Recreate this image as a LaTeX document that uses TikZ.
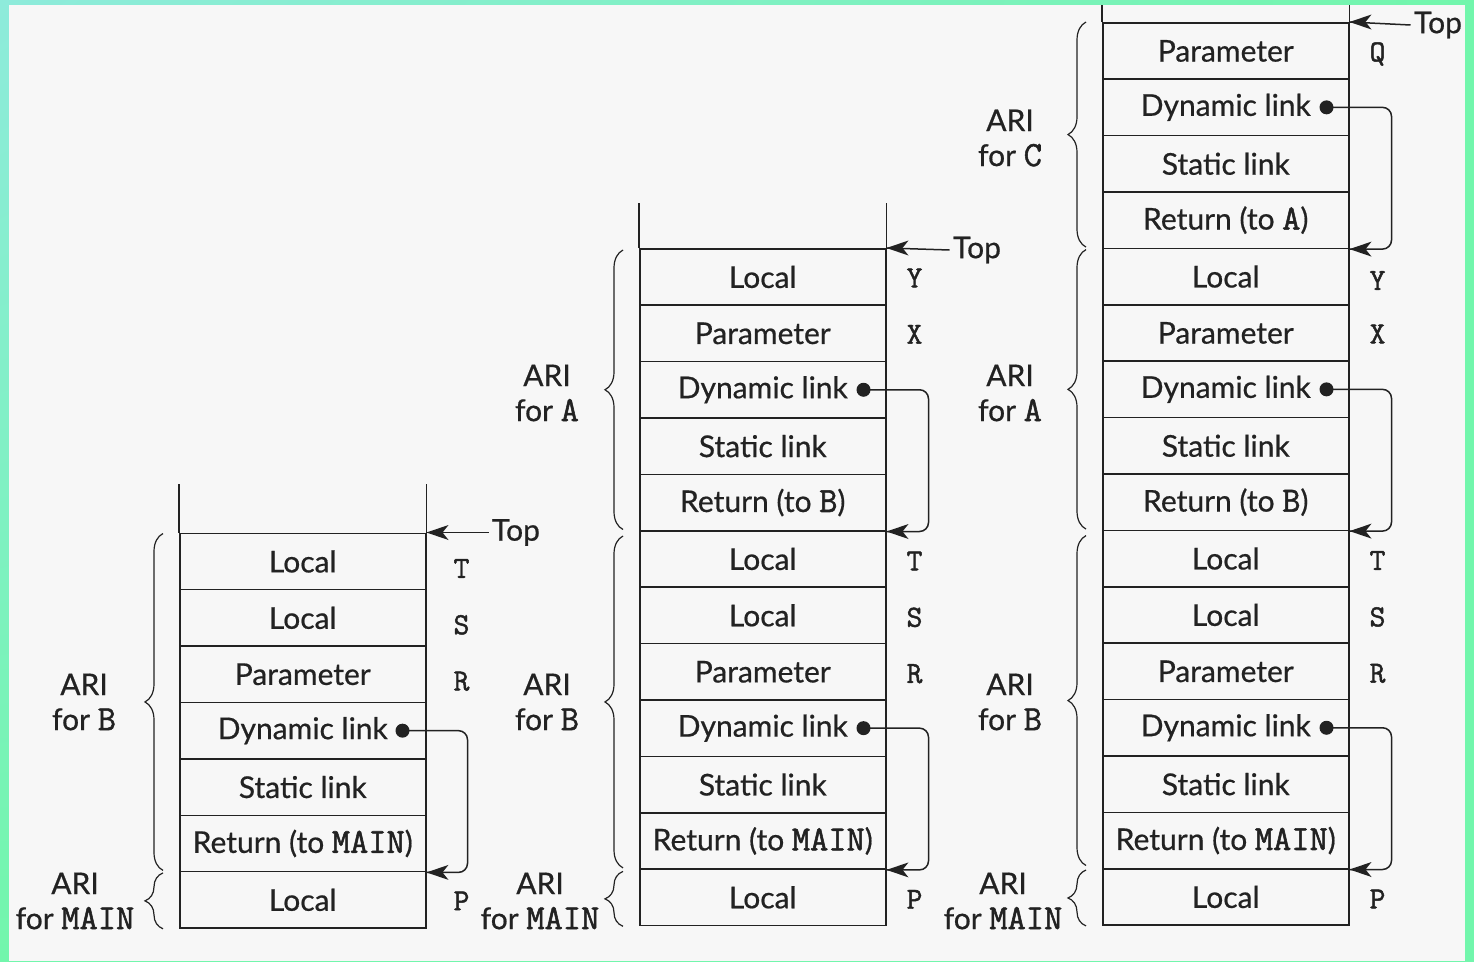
\documentclass[tikz,border=0pt]{standalone}
\usepackage{fontspec}
\setmainfont{Lato}[FakeBold=0.6]
\setmonofont{Latin Modern Mono}[Scale=1.18, FakeBold=1.5]
\usetikzlibrary{decorations.pathreplacing,calc,shadings}
\definecolor{ink}{HTML}{222222}
\definecolor{paper}{HTML}{F7F7F7}
\definecolor{frameA}{HTML}{8EEBDB}
\definecolor{frameB}{HTML}{72F6AC}
% filled dart pointing left, its tip on the given point
\newcommand\leftdart[1]{\fill[ink] (#1) -- ++(22,-7.5) -- ++(-6,7.5) -- ++(6,7.5) -- cycle;}

\begin{document}
\begin{tikzpicture}[x=1pt,y=-1pt,
  txt/.style={font=\fontsize{30}{35}\selectfont, text=ink},
  cell/.style={txt, draw=ink, line width=1.5pt, minimum width=246pt,
    minimum height=56.4pt, inner sep=0pt, anchor=north west},
  side/.style={font=\fontsize{26}{30}\ttfamily, text=ink},
  ari/.style={txt, align=center},
  rail/.style={draw=ink, line width=1.5pt},
  conn/.style={rail, rounded corners=9pt},
  curly/.style={draw=ink, line width=1.2pt, decorate,
    decoration={brace, amplitude=18pt}},
  dot/.style={fill=ink},
]
\useasboundingbox (0,0) rectangle (1474,961);
% frame and paper
\shade[upper left=frameA, upper right=frameB, lower left=frameB, lower right=frameB]
  (0,0) rectangle (1474,961);
\fill[paper] (9,5) rectangle (1465,961);

% ---------------- stack while B runs ----------------
\foreach \t [count=\i] in {Local,Local,Parameter,Dynamic link,Static link,
    Return (to \texttt{MAIN}),Local}
  \node[cell] (a\i) at (179,{532.5+(\i-1)*56.4}) {\t};
\draw[rail] (a1.north west) -- ++(0,-49);
\draw[rail] (a1.north east) -- ++(0,-49);
\node[txt, anchor=west] (atop) at ($(a1.north east)+(62,0)$) {Top};
\draw[rail] (atop.west) -- (a1.north east);
\leftdart{a1.north east}
\node[side] at ($(a1.east)+(35,7)$) {T};
\node[side] at ($(a2.east)+(35,7)$) {S};
\node[side] at ($(a3.east)+(35,7)$) {R};
\node[side] at ($(a7.east)+(35,1)$) {P};
\coordinate (ad) at ($(a4.east)+(-24,0)$);
\fill[dot] (ad) circle (7pt);
\draw[conn] (ad) -| ($(a6.south east)+(41,0)$) -- (a6.south east);
\leftdart{a6.south east}
\draw[curly] ($(a6.south west)+(-16,-2)$) -- ($(a1.north west)+(-16,1)$);
\draw[curly] ($(a7.south west)+(-16,0)$) -- ($(a7.north west)+(-16,2)$);
\node[ari] at (84,702) {ARI\\for \texttt{B}};
\node[ari] at (75,901) {ARI\\for \texttt{MAIN}};

% ---------------- stack while A runs ----------------
\foreach \t [count=\i] in {Local,Parameter,Dynamic link,Static link,
    Return (to \texttt{B}),Local,Local,Parameter,Dynamic link,Static link,
    Return (to \texttt{MAIN}),Local}
  \node[cell] (b\i) at (639,{248+(\i-1)*56.4}) {\t};
\draw[rail] (b1.north west) -- ++(0,-45);
\draw[rail] (b1.north east) -- ++(0,-45);
\node[txt, anchor=west] (btop) at ($(b1.north east)+(63,2)$) {Top};
\draw[rail] (btop.west) -- (b1.north east);
\leftdart{b1.north east}
\node[side] at ($(b1.east)+(28,1)$) {Y};
\node[side] at ($(b2.east)+(28,1)$) {X};
\node[side] at ($(b6.east)+(28,2)$) {T};
\node[side] at ($(b7.east)+(28,2)$) {S};
\node[side] at ($(b8.east)+(28,2)$) {R};
\node[side] at ($(b12.east)+(28,2)$) {P};
\coordinate (bd1) at ($(b3.east)+(-23,0)$);
\fill[dot] (bd1) circle (7pt);
\draw[conn] (bd1) -| ($(b5.south east)+(42,0)$) -- (b5.south east);
\leftdart{b5.south east}
\coordinate (bd2) at ($(b9.east)+(-23,0)$);
\fill[dot] (bd2) circle (7pt);
\draw[conn] (bd2) -| ($(b11.south east)+(42,0)$) -- (b11.south east);
\leftdart{b11.south east}
\draw[curly] ($(b5.south west)+(-16,-2)$) -- ($(b1.north west)+(-16,2)$);
\draw[curly] ($(b11.south west)+(-16,-2)$) -- ($(b6.north west)+(-16,6)$);
\draw[curly] ($(b12.south west)+(-16,0)$) -- ($(b12.north west)+(-16,3)$);
\node[ari] at (547,393) {ARI\\for \texttt{A}};
\node[ari] at (547,702) {ARI\\for \texttt{B}};
\node[ari] at (540,901) {ARI\\for \texttt{MAIN}};

% ---------------- stack while C runs ----------------
\foreach \t [count=\i] in {Parameter,Dynamic link,Static link,
    Return (to \texttt{A}),Local,Parameter,Dynamic link,Static link,
    Return (to \texttt{B}),Local,Local,Parameter,Dynamic link,Static link,
    Return (to \texttt{MAIN}),Local}
  \node[cell] (c\i) at (1102,{22+(\i-1)*56.4}) {\t};
\draw[rail] (c1.north west) -- ++(0,-17);
\draw[rail] (c1.north east) -- ++(0,-17);
\node[txt, anchor=west] (ctop) at ($(c1.north east)+(61,3)$) {Top};
\draw[rail] (ctop.west) -- (c1.north east);
\leftdart{c1.north east}
\node[side] at ($(c1.east)+(28,3)$) {Q};
\node[side] at ($(c5.east)+(28,4)$) {Y};
\node[side] at ($(c6.east)+(28,1)$) {X};
\node[side] at ($(c10.east)+(28,2)$) {T};
\node[side] at ($(c11.east)+(28,2)$) {S};
\node[side] at ($(c12.east)+(28,2)$) {R};
\node[side] at ($(c16.east)+(28,2)$) {P};
\coordinate (cd1) at ($(c2.east)+(-23,0)$);
\fill[dot] (cd1) circle (7pt);
\draw[conn] (cd1) -| ($(c4.south east)+(42,0)$) -- (c4.south east);
\leftdart{c4.south east}
\coordinate (cd2) at ($(c7.east)+(-23,0)$);
\fill[dot] (cd2) circle (7pt);
\draw[conn] (cd2) -| ($(c9.south east)+(42,0)$) -- (c9.south east);
\leftdart{c9.south east}
\coordinate (cd3) at ($(c13.east)+(-23,0)$);
\fill[dot] (cd3) circle (7pt);
\draw[conn] (cd3) -| ($(c15.south east)+(42,0)$) -- (c15.south east);
\leftdart{c15.south east}
\draw[curly] ($(c4.south west)+(-16,-2)$) -- ($(c1.north west)+(-16,0)$);
\draw[curly] ($(c9.south west)+(-16,-2)$) -- ($(c5.north west)+(-16,2)$);
\draw[curly] ($(c15.south west)+(-16,-4)$) -- ($(c10.north west)+(-16,6)$);
\draw[curly] ($(c16.south west)+(-16,0)$) -- ($(c16.north west)+(-16,2)$);
\node[ari] at (1010,138) {ARI\\for \texttt{C}};
\node[ari] at (1010,393) {ARI\\for \texttt{A}};
\node[ari] at (1010,702) {ARI\\for \texttt{B}};
\node[ari] at (1003,901) {ARI\\for \texttt{MAIN}};
\end{tikzpicture}
\end{document}
